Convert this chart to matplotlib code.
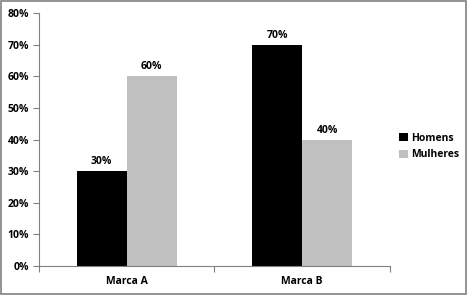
import numpy as np
import matplotlib
matplotlib.use('Agg')
import matplotlib.pyplot as plt
from matplotlib.ticker import PercentFormatter

categories = ['Marca A', 'Marca B']
homens = [30, 70]
mulheres = [60, 40]
series_names = ['Homens', 'Mulheres']
colors = ['#000000', '#c0c0c0']

plt.rcParams['font.family'] = ['Open Sans', 'DejaVu Sans']
plt.rcParams['font.weight'] = 'bold'
plt.rcParams['font.size'] = 7.5

fig = plt.figure(figsize=(4.68, 2.95), dpi=100)
ax = fig.add_axes([0.0833, 0.098, 0.75, 0.858])

x = np.arange(len(categories))
w = 0.285
b1 = ax.bar(x - w / 2, homens, w, color=colors[0], label=series_names[0])
b2 = ax.bar(x + w / 2, mulheres, w, color=colors[1], label=series_names[1])

# value labels above each bar
for bars, vals in [(b1, homens), (b2, mulheres)]:
    for bar, v in zip(bars, vals):
        ax.text(bar.get_x() + bar.get_width() / 2, v + 1.2, f'{v}%',
                ha='center', va='bottom', fontweight='bold')

ax.set_xlim(-0.5, 1.5)
ax.set_ylim(0, 80)
ax.set_yticks(range(0, 81, 10))
ax.yaxis.set_major_formatter(PercentFormatter(decimals=0))
ax.set_xticks([-0.5, 0.5, 1.5])
ax.set_xticklabels([])
ax.set_xticks(x, minor=True)
ax.set_xticklabels(categories, minor=True)
ax.tick_params(axis='x', which='minor', length=0, pad=7)
ax.tick_params(axis='x', which='major', length=4, color='#808080')
ax.tick_params(axis='y', length=4, color='#808080', pad=3)

for s in ['top', 'right']:
    ax.spines[s].set_visible(False)
for s in ['left', 'bottom']:
    ax.spines[s].set_color('#808080')

ax.legend(loc='center left', bbox_to_anchor=(1.0, 0.472), frameon=False,
          handlelength=0.8, handleheight=0.8, handletextpad=0.3,
          labelspacing=0.5, prop={'weight': 'bold', 'size': 7.5})

# grey border around the whole figure
fig.patches.append(plt.Rectangle((0.002, 0.003), 0.994, 0.994, transform=fig.transFigure,
                                 fill=False, edgecolor='#808080', linewidth=1.2))

fig.savefig('out.png', dpi=100)
